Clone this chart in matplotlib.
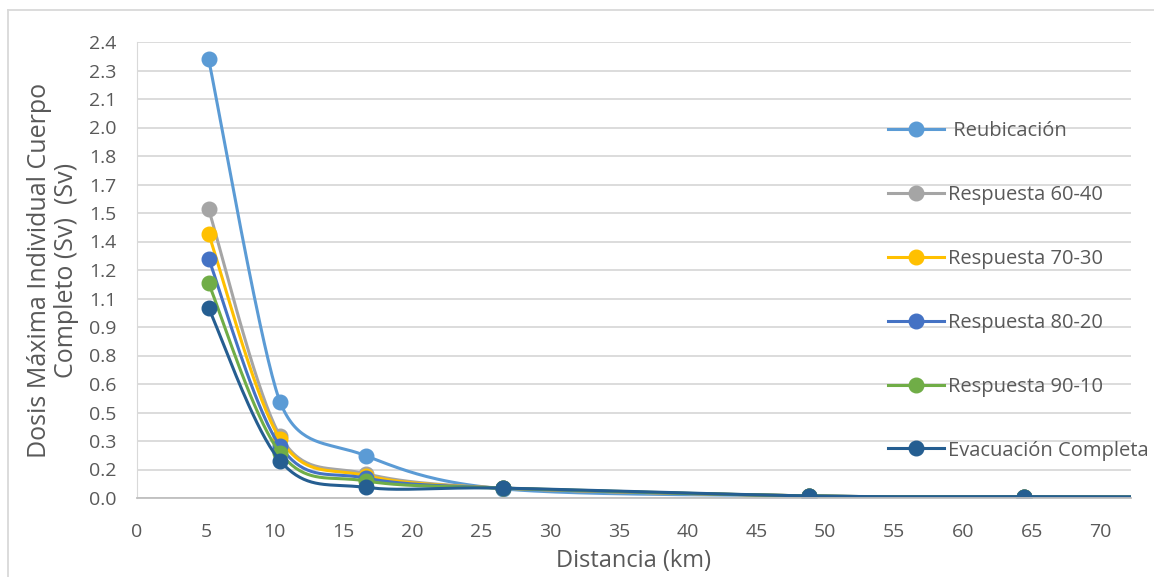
import numpy as np
import matplotlib
matplotlib.use("Agg")
import matplotlib.pyplot as plt
from matplotlib.lines import Line2D

plt.rcParams['font.family'] = ['Open Sans', 'DejaVu Sans']

# Datos
distancia = [5.2, 10.4, 16.6, 26.6, 48.8, 64.4, 80.5]
series = [
    (" Reubicación", "#5B9BD5", [2.31, 0.505, 0.223, 0.048, 0.011, 0.006, 0.004]),
    ("Respuesta 60-40", "#A5A5A5", [1.52, 0.326, 0.128, 0.052, 0.011, 0.006, 0.004]),
    ("Respuesta 70-30", "#FFC000", [1.39, 0.310, 0.118, 0.052, 0.011, 0.006, 0.004]),
    ("Respuesta 80-20", "#4472C4", [1.26, 0.272, 0.105, 0.052, 0.011, 0.006, 0.004]),
    ("Respuesta 90-10", "#70AD47", [1.13, 0.237, 0.090, 0.052, 0.011, 0.006, 0.004]),
    ("Evacuación Completa", "#255E91", [1.00, 0.195, 0.056, 0.052, 0.011, 0.007, 0.005]),
]
n_marcados = 6  # los puntos con marcador (el último sólo prolonga la línea)
y_ticks = [0.0, 0.15, 0.3, 0.45, 0.6, 0.75, 0.9, 1.05, 1.2, 1.35, 1.5,
           1.65, 1.8, 1.95, 2.1, 2.25, 2.4]
y_labels = ["0.0", "0.2", "0.3", "0.5", "0.6", "0.8", "0.9", "1.1", "1.2",
            "1.4", "1.5", "1.7", "1.8", "2.0", "2.1", "2.3", "2.4"]
x_ticks = list(range(0, 75, 5))

gris = "#595959"
# escala aproximada en pixeles para el suavizado (como hace Excel)
ESC_X, ESC_Y = 13.77, 190.0


def suavizar(x, y, n=40):
    # Bezier con tangentes limitadas a media longitud del segmento
    p = np.column_stack([np.asarray(x, float) * ESC_X, np.asarray(y, float) * ESC_Y])
    m = len(p)
    tang = np.zeros_like(p)
    for i in range(m):
        a = p[max(i - 1, 0)]
        c = p[min(i + 1, m - 1)]
        d02 = np.hypot(*(c - a))
        if d02 == 0:
            continue
        f = 1 / 6
        if i > 0:
            f = min(f, np.hypot(*(p[i] - a)) / (2 * d02))
        if i < m - 1:
            f = min(f, np.hypot(*(c - p[i])) / (2 * d02))
        tang[i] = f * (c - a)
    t = np.linspace(0, 1, n)[:, None]
    pts = []
    for i in range(m - 1):
        p0, p3 = p[i], p[i + 1]
        p1, p2 = p0 + tang[i], p3 - tang[i + 1]
        b = (1 - t) ** 3 * p0 + 3 * (1 - t) ** 2 * t * p1 + 3 * (1 - t) * t ** 2 * p2 + t ** 3 * p3
        pts.append(b)
    pts = np.vstack(pts)
    return pts[:, 0] / ESC_X, pts[:, 1] / ESC_Y


fig = plt.figure(figsize=(11.54, 5.77), dpi=100)
ax = fig.add_axes([137 / 1154, 1 - 498 / 577, (1131 - 137) / 1154, (498 - 42) / 577])

handles = []
for nombre, color, valores in series:
    sx, sy = suavizar(distancia, valores)
    ax.plot(sx, sy, color=color, lw=2.2, solid_capstyle='round')
    ax.plot(distancia[:n_marcados], valores[:n_marcados], 'o', color=color, ms=10.5)
    handles.append(Line2D([], [], color=color, lw=2.2, marker='o', ms=10.5))

ax.set_xlim(0, 72.2)
ax.set_ylim(0, 2.4)
ax.set_yticks(y_ticks)
ax.set_yticklabels(y_labels)
ax.set_xticks(x_ticks)
ax.grid(axis='y', color="#D9D9D9", lw=1.3)
ax.set_axisbelow(True)
for s in ['top', 'right']:
    ax.spines[s].set_visible(False)
ax.spines['left'].set_color("#D9D9D9")
ax.spines['bottom'].set_color("#BFBFBF")
ax.spines['bottom'].set_linewidth(1.3)
ax.tick_params(length=0, labelsize=14, colors=gris)
ax.tick_params(axis='y', pad=15)
ax.tick_params(axis='x', pad=18)

ax.set_xlabel("Distancia (km)", fontsize=17, color=gris, labelpad=6)
ax.set_ylabel("Dosis Máxima Individual Cuerpo\nCompleto (Sv)  (Sv)", fontsize=18,
              color=gris, labelpad=7, linespacing=1.1)

fig.legend(handles, [s[0] for s in series], loc='upper left',
           bbox_to_anchor=(888 / 1154, 1 - 121 / 577), frameon=False,
           fontsize=14.5, labelcolor=gris, handlelength=2.8, handletextpad=0.2,
           labelspacing=2.18, borderpad=0, borderaxespad=0)

# borde del área del gráfico
fig.add_artist(Line2D([8 / 1154, 1], [1 - 10 / 577] * 2, color="#D9D9D9", lw=1.3))
fig.add_artist(Line2D([8 / 1154] * 2, [0, 1 - 10 / 577], color="#D9D9D9", lw=1.3))

fig.savefig("out.png", dpi=100)
